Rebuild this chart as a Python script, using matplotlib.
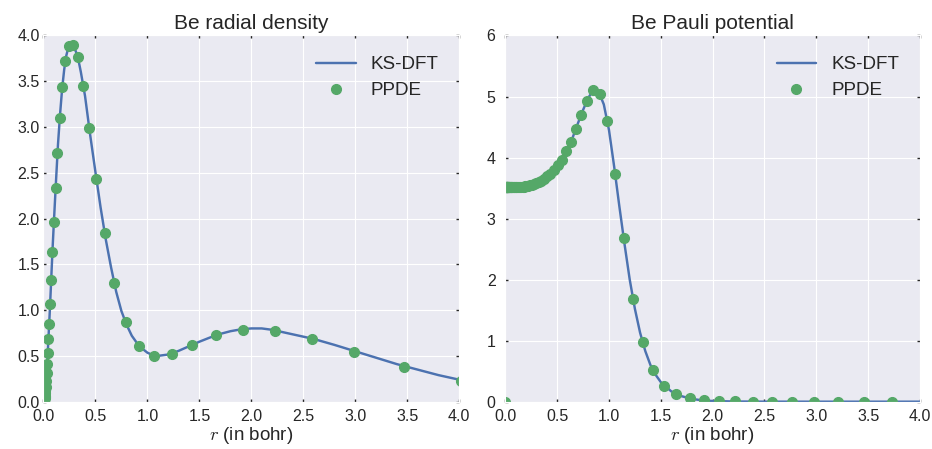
import matplotlib
matplotlib.use('Agg')
from matplotlib import pyplot as plt
import seaborn as sns

# radial density, KS-DFT reference curve
dens_r = [0.0, 0.01, 0.02, 0.03, 0.04, 0.05, 0.06, 0.07, 0.08, 0.09, 0.10, 0.12, 0.14, 0.16,
          0.18, 0.20, 0.22, 0.24, 0.26, 0.28, 0.30, 0.33, 0.36, 0.40, 0.45, 0.50, 0.55, 0.60,
          0.65, 0.70, 0.75, 0.80, 0.85, 0.90, 0.95, 1.00, 1.05, 1.10, 1.20, 1.30, 1.40, 1.50,
          1.60, 1.70, 1.80, 1.90, 2.00, 2.10, 2.20, 2.30, 2.40, 2.50, 2.60, 2.80, 3.00, 3.20,
          3.40, 3.60, 3.80, 4.00]
dens_ks = [0.0, 0.04, 0.13, 0.30, 0.50, 0.73, 0.96, 1.21, 1.47, 1.72, 1.95, 2.39, 2.81, 3.14,
           3.42, 3.63, 3.78, 3.87, 3.91, 3.91, 3.86, 3.77, 3.60, 3.34, 2.91, 2.51, 2.12, 1.77,
           1.47, 1.20, 0.99, 0.84, 0.72, 0.64, 0.58, 0.535, 0.51, 0.50, 0.515, 0.555, 0.605, 0.655,
           0.70, 0.74, 0.77, 0.79, 0.80, 0.80, 0.785, 0.76, 0.735, 0.71, 0.685, 0.62, 0.55, 0.48,
           0.41, 0.35, 0.29, 0.24]

# radial density, PPDE points
dens_pts_r = [0.0, 0.0033, 0.0038, 0.0044, 0.0051, 0.0059, 0.0069, 0.0080, 0.0093, 0.0108,
              0.0126, 0.0146, 0.0169, 0.0196, 0.0228, 0.0264, 0.0307, 0.0356, 0.0413, 0.0479,
              0.0555, 0.0644, 0.0747, 0.0867, 0.1006, 0.117, 0.135, 0.157, 0.182, 0.211, 0.245,
              0.284, 0.33, 0.385, 0.44, 0.51, 0.59, 0.68, 0.79, 0.92, 1.064, 1.234, 1.426, 1.657,
              1.923, 2.228, 2.58, 2.99, 3.47, 4.02]
dens_ppde = [0.0, 0.004, 0.005, 0.007, 0.009, 0.012, 0.016, 0.021, 0.028, 0.037,
             0.05, 0.067, 0.09, 0.12, 0.165, 0.225, 0.31, 0.41, 0.53, 0.68,
             0.85, 1.07, 1.33, 1.64, 1.96, 2.33, 2.72, 3.10, 3.44, 3.72, 3.88,
             3.90, 3.77, 3.45, 2.99, 2.43, 1.84, 1.30, 0.87, 0.61, 0.50, 0.526, 0.617, 0.723,
             0.785, 0.775, 0.687, 0.548, 0.38, 0.23]

# Pauli potential, KS-DFT reference curve
pauli_r = [0.0, 0.1, 0.2, 0.3, 0.4, 0.5, 0.55, 0.6, 0.65, 0.7, 0.75, 0.8, 0.85, 0.88, 0.9,
           0.95, 1.0, 1.05, 1.1, 1.15, 1.2, 1.25, 1.3, 1.35, 1.4, 1.45, 1.5, 1.6, 1.7, 1.8,
           1.9, 2.0, 2.2, 2.5, 3.0, 4.0]
pauli_ks = [3.51, 3.515, 3.535, 3.58, 3.68, 3.86, 3.98, 4.14, 4.33, 4.56, 4.78, 4.98, 5.10, 5.11, 5.08,
            4.87, 4.45, 3.85, 3.20, 2.58, 2.00, 1.52, 1.13, 0.83, 0.60, 0.44, 0.32, 0.17, 0.09, 0.045,
            0.022, 0.011, 0.003, 0.0005, 0.0, 0.0]

# Pauli potential, PPDE points
pauli_pts_r = [0.0, 0.005, 0.006, 0.007, 0.008, 0.009, 0.010, 0.011, 0.012, 0.013, 0.014, 0.015,
               0.016, 0.017, 0.019, 0.020, 0.022, 0.024, 0.026, 0.028, 0.030, 0.032, 0.035, 0.037,
               0.040, 0.043, 0.047, 0.050, 0.054, 0.058, 0.063, 0.068, 0.073, 0.079, 0.085, 0.092,
               0.099, 0.106, 0.114, 0.123, 0.133, 0.143, 0.154, 0.166, 0.179, 0.192, 0.207, 0.223,
               0.240, 0.259, 0.279, 0.300, 0.323, 0.348, 0.375, 0.404, 0.435, 0.469, 0.505, 0.544,
               0.586, 0.631, 0.679, 0.731, 0.788, 0.848, 0.914, 0.984, 1.06, 1.142, 1.229, 1.325,
               1.425, 1.533, 1.65, 1.78, 1.914, 2.06, 2.22, 2.39, 2.57, 2.77, 2.98, 3.21, 3.46, 3.73]
pauli_ppde = [0.0, 3.51, 3.51, 3.51, 3.51, 3.51, 3.51, 3.51, 3.51, 3.51, 3.51, 3.51,
              3.51, 3.51, 3.51, 3.51, 3.51, 3.51, 3.51, 3.51, 3.51, 3.51, 3.51, 3.51,
              3.51, 3.51, 3.51, 3.51, 3.51, 3.51, 3.51, 3.51, 3.51, 3.51, 3.51, 3.51,
              3.51, 3.515, 3.515, 3.515, 3.515, 3.515, 3.52, 3.522, 3.525, 3.53, 3.535, 3.54,
              3.545, 3.555, 3.565, 3.58, 3.60, 3.62, 3.65, 3.69, 3.73, 3.79, 3.87, 3.96,
              4.10, 4.26, 4.46, 4.70, 4.93, 5.11, 5.04, 4.60, 3.73, 2.68, 1.69, 0.97,
              0.52, 0.26, 0.13, 0.055, 0.02, 0.008, 0.003, 0.001, 0.0, 0.0, 0.0, 0.0, 0.0, 0.0]

x_ticks = [0.0, 0.5, 1.0, 1.5, 2.0, 2.5, 3.0, 3.5, 4.0]
dens_yticks = [0.0, 0.5, 1.0, 1.5, 2.0, 2.5, 3.0, 3.5, 4.0]
pauli_yticks = [0, 1, 2, 3, 4, 5, 6]

blue = '#4C72B0'
green = '#55A868'

sns.set_style('darkgrid')
plt.rcParams['font.family'] = ['Liberation Sans', 'DejaVu Sans']
plt.rcParams['mathtext.fontset'] = 'cm'

fig = plt.figure(figsize=(9.32, 4.49), dpi=100)
ax1 = fig.add_axes([0.0466, 0.1054, 0.4462, 0.8156])
ax2 = fig.add_axes([0.5422, 0.1054, 0.4449, 0.8156])

def draw(ax, r, ks, pr, pp, title, yticks, fmt, ypad):
    ax.plot(r, ks, color=blue, lw=1.75, label='KS-DFT')
    ax.plot(pr, pp, 'o', color=green, ms=7, mec=green, label='PPDE')
    ax.set_xlim(0, 4)
    ax.set_ylim(yticks[0], yticks[-1])
    ax.set_xticks(x_ticks)
    ax.set_xticklabels(['%.1f' % t for t in x_ticks])
    ax.set_yticks(yticks)
    ax.set_yticklabels([fmt % t for t in yticks])
    ax.tick_params(labelsize=11.5, colors='0.15', length=2, width=1, direction='in',
                   top=True, right=True, bottom=True, left=True)
    ax.tick_params(axis='x', pad=5)
    ax.tick_params(axis='y', pad=ypad)
    ax.set_title(title, fontsize=15, color='0.15', pad=5)
    ax.set_xlabel('$r$ (in bohr)', fontsize=13.5, color='0.15', labelpad=1)
    ax.legend(loc='upper right', fontsize=13.6, frameon=False, numpoints=1,
              handlelength=2.1, labelspacing=0.45, borderaxespad=0.7)

draw(ax1, dens_r, dens_ks, dens_pts_r, dens_ppde, 'Be radial density', dens_yticks, '%.1f', 2.7)
draw(ax2, pauli_r, pauli_ks, pauli_pts_r, pauli_ppde, 'Be Pauli potential', pauli_yticks, '%d', 7)

fig.savefig('out.png', dpi=100)
